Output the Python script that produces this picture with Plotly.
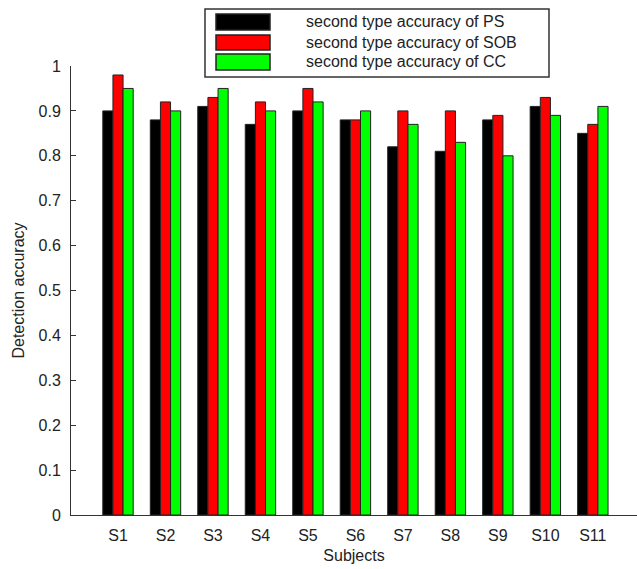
import plotly.graph_objects as go

subjects = ["S1", "S2", "S3", "S4", "S5", "S6", "S7", "S8", "S9", "S10", "S11"]
positions = list(range(1, len(subjects) + 1))
ps_values = [0.90, 0.88, 0.91, 0.87, 0.90, 0.88, 0.82, 0.81, 0.88, 0.91, 0.85]
sob_values = [0.98, 0.92, 0.93, 0.92, 0.95, 0.88, 0.90, 0.90, 0.89, 0.93, 0.87]
cc_values = [0.95, 0.90, 0.95, 0.90, 0.92, 0.90, 0.87, 0.83, 0.80, 0.89, 0.91]
series_names = ["second type accuracy of PS", "second type accuracy of SOB", "second type accuracy of CC"]
series_colors = ["#000000", "#ff0000", "#00ff00"]
y_ticks = [0, 0.1, 0.2, 0.3, 0.4, 0.5, 0.6, 0.7, 0.8, 0.9, 1]
y_tick_labels = ["0", "0.1", "0.2", "0.3", "0.4", "0.5", "0.6", "0.7", "0.8", "0.9", "1"]

W, H = 637, 569
L, R, T, B = 71, 0, 66, 54
pw, ph = W - L - R, H - T - B

def px(x):
    return (x - L) / pw

def py(y):
    return (H - B - y) / ph

fig = go.Figure()
for name, vals, col in zip(series_names, [ps_values, sob_values, cc_values], series_colors):
    fig.add_trace(go.Bar(x=positions, y=vals, name=name, marker_color=col,
                         marker_line_color="#222222", marker_line_width=1, showlegend=False))

FAM = "Liberation Sans, Arial, sans-serif"
font = dict(family=FAM, size=16, color="#222222")

shapes = []
annotations = []
# legend box
shapes.append(dict(type="rect", xref="paper", yref="paper", x0=px(205), x1=px(549), y0=py(77), y1=py(9),
                   line=dict(color="#333333", width=1.5), fillcolor="white"))
rows = [(14, 30), (35, 50), (54, 70)]
for (y0, y1), name, col in zip(rows, series_names, series_colors):
    shapes.append(dict(type="rect", xref="paper", yref="paper", x0=px(216), x1=px(270), y0=py(y1), y1=py(y0),
                       line=dict(color="#222222", width=1.5), fillcolor=col))
    annotations.append(dict(xref="paper", yref="paper", x=px(304), y=py((y0 + y1) / 2), text=name,
                            showarrow=False, xanchor="left", yanchor="middle",
                            font=dict(family=FAM, size=16, color="#222222")))

fig.update_layout(
    width=W, height=H,
    margin=dict(l=L, r=R, t=T, b=B),
    paper_bgcolor="white", plot_bgcolor="white",
    barmode="group", bargap=0.36, bargroupgap=0.0,
    font=font,
    shapes=shapes, annotations=annotations,
    xaxis=dict(range=[0.01, 11.93], tickvals=positions, ticktext=subjects, showgrid=False,
               zeroline=False, showline=True, linecolor="#333333", linewidth=1, ticks="",
               ticklabelstandoff=6,
               title=dict(text="Subjects", standoff=6, font=font), tickfont=font),
    yaxis=dict(range=[0, 1], tickvals=y_ticks, ticktext=y_tick_labels, showgrid=False,
               zeroline=False, showline=True, linecolor="#333333", linewidth=1,
               ticks="inside", ticklen=5, tickcolor="#333333", ticklabelstandoff=6,
               title=dict(text="Detection accuracy", standoff=9, font=font), tickfont=font),
)

fig.write_html("out.html", config={"displayModeBar": False})
with open("out.html", "r", encoding="utf-8") as f:
    html = f.read()
html = html.replace("<head>", "<head><style>html,body{margin:0;padding:0;overflow:hidden;}</style>", 1)
with open("out.html", "w", encoding="utf-8") as f:
    f.write(html)
